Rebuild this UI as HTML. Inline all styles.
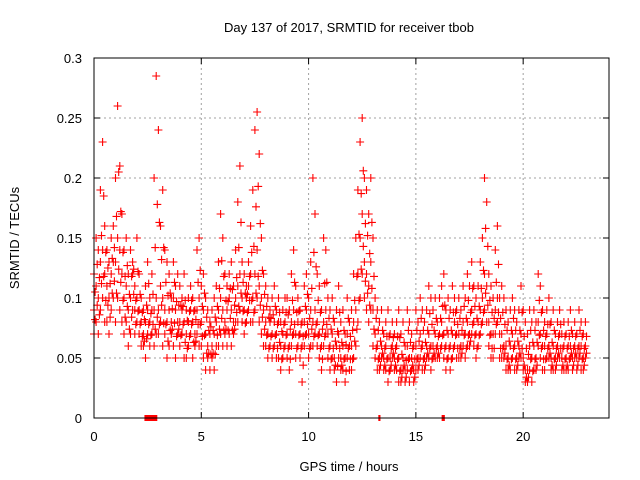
<!DOCTYPE html>
<html><head><meta charset="utf-8"><style>
body{margin:0;background:#fff}
svg{display:block;font-family:"Liberation Sans",sans-serif}
</style></head><body>
<svg id="chart" width="640" height="480" viewBox="0 0 640 480">
<rect width="640" height="480" fill="#fff"/>
<text x="349" y="32" font-size="13" text-anchor="middle">Day 137 of 2017, SRMTID for receiver tbob</text>
<text x="349" y="471" font-size="13" text-anchor="middle">GPS time / hours</text>
<text x="19" y="238" font-size="13" text-anchor="middle" transform="rotate(-90 19 238)">SRMTID / TECUs</text>
<g id="grid"></g>
<g id="ticks"></g>
<g id="marks"></g>
<g id="flags"></g>
<rect x="94" y="58" width="515" height="360" fill="none" stroke="#000" stroke-width="1"/>
</svg>
<script>
const xTicks=[0,5,10,15,20];
const yTicks=[0,0.05,0.1,0.15,0.2,0.25,0.3];
const yTickLabels=["0","0.05","0.1","0.15","0.2","0.25","0.3"];
const startHour=0, stepHour=0.1, halfOffset=0.05;
const seriesHi=[.12,.15,.14,.19,.23,.16,.14,.13,.15,.16,.20,.26,.21,.17,.14,.15,.12,.14,.13,.11,.15,.12,.10,.09,.11,.13,.10,.12,.20,.285,.24,.16,.19,.14,.13,.12,.10,.13,.11,.12,.11,.10,.12,.09,.10,.11,.10,.09,.14,.15,.11,.12,.10,.09,.08,.09,.10,.11,.13,.17,.15,.12,.11,.12,.13,.11,.14,.18,.21,.13,.12,.11,.13,.16,.19,.24,.255,.22,.15,.12,.11,.10,.09,.10,.11,.09,.10,.08,.09,.10,.10,.09,.12,.14,.11,.10,.09,.08,.11,.12,.10,.13,.20,.17,.12,.11,.09,.15,.14,.10,.09,.10,.08,.09,.11,.08,.09,.07,.10,.08,.09,.12,.15,.19,.23,.25,.20,.19,.17,.20,.15,.10,.09,.08,.09,.07,.08,.09,.07,.08,.07,.08,.09,.07,.08,.06,.09,.08,.07,.06,.09,.08,.10,.09,.08,.09,.11,.10,.09,.10,.08,.10,.11,.12,.09,.10,.09,.11,.10,.09,.10,.09,.11,.10,.12,.11,.13,.11,.10,.11,.13,.15,.20,.18,.12,.11,.10,.14,.16,.10,.11,.10,.09,.08,.09,.10,.09,.08,.09,.11,.09,.08,.07,.09,.08,.09,.08,.12,.11,.09,.08,.09,.10,.08,.09,.07,.08,.09,.07,.08,.07,.08,.09,.07,.08,.07,.09,.08,.07,.08];
const seriesMid=[.09,.11,.10,.13,.14,.12,.11,.10,.12,.13,.13,.15,.14,.12,.10,.11,.09,.10,.12,.09,.10,.09,.08,.07,.08,.09,.08,.09,.09,.10,.09,.11,.10,.09,.08,.09,.08,.10,.09,.08,.08,.09,.08,.07,.08,.09,.08,.07,.09,.10,.08,.09,.07,.06,.07,.06,.07,.08,.09,.10,.09,.08,.09,.10,.09,.08,.10,.11,.12,.10,.09,.10,.11,.12,.10,.12,.14,.11,.10,.09,.08,.07,.08,.07,.08,.07,.08,.06,.07,.08,.07,.06,.08,.09,.07,.08,.07,.06,.08,.09,.07,.09,.08,.09,.08,.07,.06,.08,.09,.07,.06,.07,.05,.06,.07,.05,.06,.05,.07,.06,.06,.08,.09,.12,.15,.17,.13,.12,.11,.13,.09,.07,.06,.05,.06,.05,.06,.05,.05,.06,.05,.06,.05,.04,.05,.04,.06,.05,.05,.04,.06,.05,.07,.06,.05,.06,.07,.06,.06,.07,.06,.07,.08,.07,.06,.07,.06,.07,.08,.07,.07,.06,.08,.07,.08,.07,.09,.08,.07,.08,.09,.10,.12,.11,.08,.07,.07,.09,.10,.07,.07,.06,.06,.05,.06,.07,.06,.05,.06,.07,.05,.04,.04,.06,.05,.06,.05,.08,.07,.06,.06,.07,.06,.05,.06,.05,.06,.07,.05,.06,.05,.06,.06,.05,.06,.05,.06,.06,.05,.06];
const seriesLo=[.07,.08,.07,.09,.10,.08,.08,.07,.09,.10,.08,.10,.09,.08,.07,.08,.06,.07,.09,.07,.08,.07,.06,.06,.05,.07,.06,.07,.06,.07,.07,.08,.06,.07,.05,.06,.07,.06,.05,.07,.06,.07,.05,.05,.06,.07,.05,.06,.07,.06,.06,.05,.04,.05,.04,.05,.04,.06,.06,.07,.06,.07,.06,.07,.06,.07,.08,.08,.09,.08,.07,.08,.09,.08,.08,.09,.10,.08,.07,.06,.06,.05,.06,.05,.06,.05,.05,.04,.05,.06,.05,.04,.06,.07,.05,.06,.05,.03,.06,.07,.05,.06,.06,.07,.06,.05,.04,.06,.07,.05,.04,.05,.04,.03,.05,.04,.04,.03,.05,.04,.04,.05,.06,.08,.10,.12,.10,.09,.08,.09,.06,.05,.04,.04,.05,.04,.04,.03,.04,.05,.04,.04,.03,.03,.04,.03,.04,.03,.04,.03,.04,.04,.05,.04,.04,.05,.05,.04,.05,.05,.05,.05,.06,.05,.04,.05,.04,.05,.06,.05,.05,.05,.06,.05,.06,.06,.07,.06,.05,.06,.07,.08,.09,.08,.06,.05,.05,.07,.08,.05,.05,.05,.04,.04,.04,.05,.04,.04,.05,.05,.04,.03,.03,.04,.03,.04,.04,.06,.05,.04,.04,.05,.05,.04,.04,.04,.05,.05,.04,.04,.04,.04,.05,.04,.05,.04,.05,.04,.04,.05];
const seriesUpperHalf=[.105,.128,.117,.152,.185,.138,.125,.112,.133,.142,.168,.205,.172,.138,.118,.127,.103,.118,.124,.098,.122,.103,.088,.082,.094,.112,.087,.103,.142,.178,.163,.132,.142,.113,.102,.104,.091,.113,.097,.094,.094,.093,.098,.081,.089,.098,.089,.082,.113,.123,.093,.104,.084,.073,.076,.073,.084,.093,.108,.131,.118,.098,.097,.108,.107,.094,.117,.142,.163,.113,.104,.103,.118,.138,.143,.176,.193,.162,.123,.103,.093,.084,.083,.086,.093,.078,.088,.072,.078,.088,.086,.074,.098,.113,.088,.089,.078,.068,.093,.103,.083,.108,.138,.126,.098,.088,.074,.112,.113,.083,.074,.083,.064,.072,.088,.063,.073,.061,.083,.068,.073,.098,.118,.153,.187,.206,.162,.152,.137,.163,.118,.083,.073,.064,.073,.058,.068,.068,.058,.067,.058,.068,.067,.053,.063,.048,.073,.063,.058,.049,.073,.064,.083,.073,.063,.073,.087,.078,.073,.083,.068,.083,.093,.094,.073,.083,.073,.088,.088,.078,.083,.073,.093,.083,.098,.088,.108,.093,.083,.093,.108,.123,.158,.143,.098,.088,.083,.113,.128,.083,.088,.078,.073,.064,.073,.083,.073,.064,.073,.088,.068,.058,.053,.073,.063,.073,.063,.098,.088,.073,.068,.078,.078,.063,.073,.058,.068,.078,.058,.068,.058,.068,.073,.058,.068,.058,.073,.068,.058,.068];
const seriesLowerHalf=[.082,.094,.086,.112,.118,.098,.094,.084,.104,.114,.104,.124,.113,.098,.084,.093,.074,.084,.103,.078,.089,.078,.068,.064,.066,.078,.069,.078,.074,.084,.078,.094,.079,.078,.064,.073,.074,.079,.068,.074,.069,.078,.063,.058,.068,.078,.063,.064,.078,.078,.068,.069,.054,.054,.053,.054,.053,.069,.074,.083,.073,.074,.073,.083,.073,.074,.088,.093,.104,.089,.079,.088,.098,.098,.088,.104,.118,.094,.084,.074,.069,.058,.068,.058,.069,.058,.063,.049,.058,.069,.058,.049,.069,.078,.058,.069,.058,.044,.069,.078,.058,.074,.068,.078,.069,.058,.049,.068,.078,.058,.049,.058,.044,.043,.058,.044,.049,.039,.058,.049,.049,.064,.074,.098,.124,.143,.114,.104,.094,.108,.074,.058,.049,.044,.054,.044,.049,.039,.044,.054,.044,.049,.039,.034,.044,.034,.049,.039,.044,.034,.049,.044,.058,.049,.044,.054,.058,.049,.054,.058,.054,.058,.069,.058,.049,.058,.049,.058,.069,.058,.058,.054,.069,.058,.069,.064,.078,.069,.058,.069,.078,.088,.104,.094,.069,.058,.058,.078,.088,.058,.058,.054,.049,.044,.049,.058,.049,.044,.054,.058,.044,.034,.034,.049,.039,.049,.044,.069,.058,.049,.049,.058,.054,.044,.049,.044,.054,.058,.044,.049,.044,.049,.054,.044,.054,.044,.054,.049,.044,.054];
const flagStarts=[2.35,13.25,16.2];
const flagEnds=[2.95,13.35,16.35];

const X0=94,X1=609,Y0=418,Y1=58,XMAX=24,YMAX=0.3;
function xs(h){return X0+(X1-X0)*h/XMAX;}
function ys(v){return Y0-(Y0-Y1)*v/YMAX;}
const NS="http://www.w3.org/2000/svg";
function mk(tag,attrs,parent){const e=document.createElementNS(NS,tag);for(const k in attrs)e.setAttribute(k,attrs[k]);parent.appendChild(e);return e;}
const grid=document.getElementById('grid'),ticks=document.getElementById('ticks'),marks=document.getElementById('marks'),flags=document.getElementById('flags');
xTicks.forEach(t=>{
  const x=xs(t);
  if(t>0){const g=mk('line',{x1:x,x2:x,y1:Y1,y2:Y0,stroke:'#a0a0a0','stroke-dasharray':'2,3'},grid);
  
  }
  mk('line',{x1:x,x2:x,y1:Y0,y2:Y0-6,stroke:'#000'},ticks);
  mk('line',{x1:x,x2:x,y1:Y1,y2:Y1+6,stroke:'#000'},ticks);
  const l=mk('text',{x:x,y:Y0+23,'font-size':13,'text-anchor':'middle'},ticks);l.textContent=t;
  
  
});
yTicks.forEach((t,i)=>{
  const y=ys(t);
  if(t>0&&t<YMAX){const g=mk('line',{x1:X0,x2:X1,y1:y,y2:y,stroke:'#a0a0a0','stroke-dasharray':'2,3'},grid);
  
  }
  mk('line',{x1:X0,x2:X0+6,y1:y,y2:y,stroke:'#000'},ticks);
  mk('line',{x1:X1,x2:X1-6,y1:y,y2:y,stroke:'#000'},ticks);
  const l=mk('text',{x:X0-12,y:y+5,'font-size':13,'text-anchor':'end'},ticks);l.textContent=yTickLabels[i];
  
  
});
let d='';
function addSeries(s,off){
  s.forEach((v,i)=>{
    const x=xs(startHour+off+i*stepHour),y=ys(v);
    d+=`M${(x-4).toFixed(1)} ${y.toFixed(1)}h8M${x.toFixed(1)} ${(y-4).toFixed(1)}v8`;
  });
}
addSeries(seriesHi,0);addSeries(seriesMid,0);addSeries(seriesLo,0);
addSeries(seriesUpperHalf,halfOffset);addSeries(seriesLowerHalf,halfOffset);
const p=mk('path',{d:d,stroke:'#ff0000','stroke-width':1.1,fill:'none'},marks);


flagStarts.forEach((s,i)=>{
  const r=mk('rect',{x:xs(s),y:Y0-3,width:Math.max(2,xs(flagEnds[i])-xs(s)),height:6,fill:'#ff0000'},flags);
  
  
});
</script>
</body></html>
